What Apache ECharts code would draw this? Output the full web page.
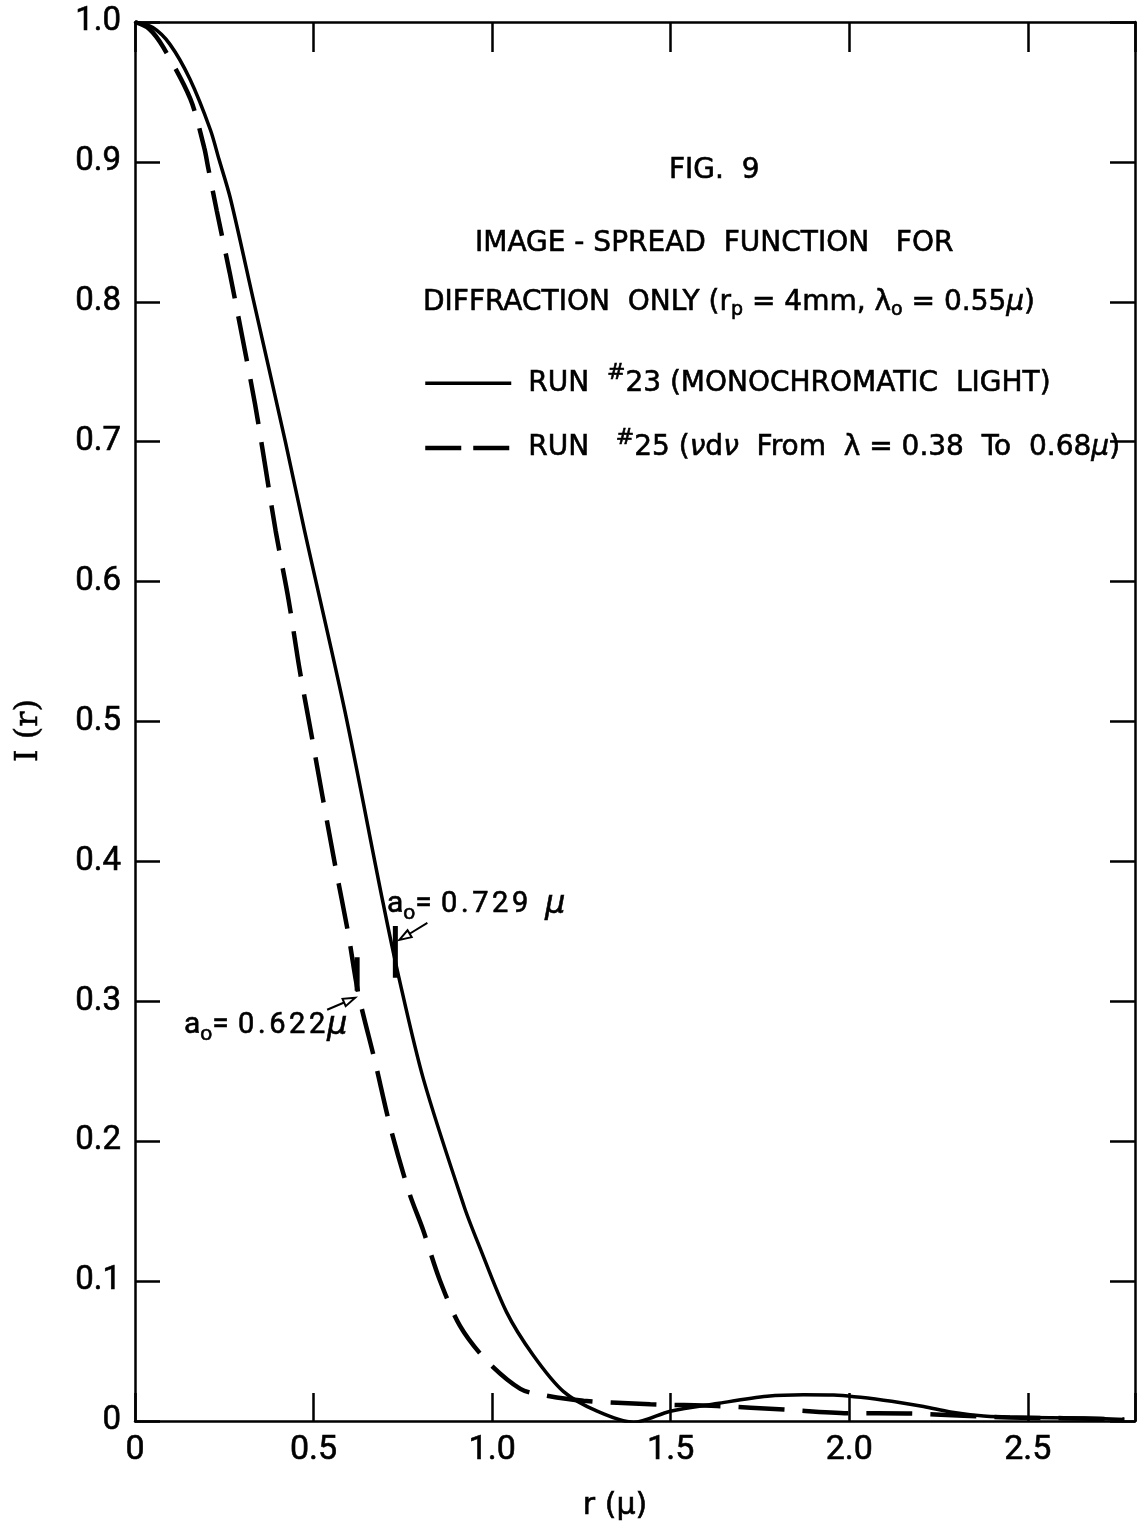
<!DOCTYPE html>
<html>
<head>
<meta charset="utf-8">
<script src="https://cdn.jsdelivr.net/npm/echarts@6/dist/echarts.min.js"></script>
<style>
  html, body { margin: 0; padding: 0; background: #fff; }
  #chart { width: 1142px; height: 1530px; }
</style>
</head>
<body>
<div id="chart"></div>
<script>
// Image-spread function for diffraction only.
// Run #23: monochromatic light — radius r (μ) and normalised intensity I(r)
const rRun23 = [0, 0.05, 0.098, 0.154, 0.211, 0.235, 0.267, 0.330, 0.421, 0.475, 0.588, 0.694, 0.738,
  0.808, 0.922, 0.964, 1.040, 1.115, 1.200, 1.294, 1.396, 1.499, 1.630, 1.770, 1.872, 1.956, 2.096,
  2.208, 2.283, 2.376, 2.469, 2.657, 2.77];
const iRun23 = [1.0, 0.996, 0.984, 0.959, 0.923, 0.902, 0.874, 0.803, 0.700, 0.636, 0.507, 0.371, 0.318,
  0.244, 0.153, 0.125, 0.078, 0.047, 0.021, 0.007, -0.001, 0.007, 0.0125, 0.0177, 0.0188, 0.0185, 0.0149,
  0.0104, 0.0065, 0.0036, 0.0026, 0.0022, 0.001];

// Run #25: νdν weighting from λ = 0.38 to 0.68 μ
const rRun25 = [0, 0.04, 0.079, 0.155, 0.194, 0.204, 0.229, 0.265, 0.301, 0.336, 0.365, 0.394, 0.430,
  0.461, 0.493, 0.526, 0.562, 0.596, 0.625, 0.672, 0.715, 0.768, 0.806, 0.853, 0.910, 0.985, 1.079,
  1.144, 1.256, 1.443, 1.630, 1.817, 1.996, 2.161, 2.32, 2.45, 2.6, 2.77];
const iRun25 = [1.0, 0.995, 0.982, 0.945, 0.910, 0.897, 0.865, 0.821, 0.774, 0.727, 0.682, 0.636, 0.587,
  0.537, 0.492, 0.445, 0.395, 0.350, 0.306, 0.257, 0.210, 0.163, 0.137, 0.101, 0.068, 0.043, 0.023,
  0.0185, 0.0145, 0.012, 0.0107, 0.0082, 0.0056, 0.0054, 0.0038, 0.0025, 0.002, 0.001];

// Radii a0 marked on each curve
const a0Run23 = 0.729;
const a0Run25 = 0.622;

const seriesNames = ['RUN #23', 'RUN #25'];

const FONT = '"DejaVu Sans", "Liberation Sans", sans-serif';
const NUMFONT = 'Roboto, "DejaVu Sans", sans-serif';

function zip(xs, ys) { return xs.map((x, k) => [x, ys[k]]); }
function interp(xs, ys, x) {
  for (let k = 1; k < xs.length; k++) {
    if (x <= xs[k]) {
      const t = (x - xs[k - 1]) / (xs[k] - xs[k - 1]);
      return ys[k - 1] + t * (ys[k] - ys[k - 1]);
    }
  }
  return ys[ys.length - 1];
}

const i23AtA0 = interp(rRun23, iRun23, a0Run23);
const i25AtA0 = interp(rRun25, iRun25, a0Run25);

// a0 label text, each digit as its own token so it can be spaced out
function a0Label(value, gapBeforeMu) {
  const digits = value.toFixed(3).split('').map(c => '{d|' + c + '}').join('');
  return '{a|a}{s|o}{a|= }' + digits + (gapBeforeMu ? '{a|  }' : '') + '{m|μ}';
}

const chart = echarts.init(document.getElementById('chart'), null, { renderer: 'canvas' });

const axisLineStyle = { color: '#000', width: 2.5 };
const tickStyle = { color: '#000', width: 2.5 };

// lettering style: slightly heavy strokes
const ink = { color: '#000', textBorderColor: '#000', textBorderWidth: 0.6 };
const letter = Object.assign({ fontFamily: FONT, fontSize: 28, fontWeight: 'normal' }, ink);
const subStyle = Object.assign({ fontFamily: FONT, fontSize: 19, padding: [16, 0, 0, 0] }, ink);
const supStyle = Object.assign({ fontFamily: FONT, fontSize: 22, padding: [0, 0, 20, 0] }, ink);
const itStyle = Object.assign({ fontFamily: FONT, fontSize: 28, fontStyle: 'italic' }, ink);

const annoStyle = Object.assign({}, ink, {
  fontFamily: NUMFONT, fontSize: 30, fontWeight: 'normal',
  rich: {
    a: Object.assign({ fontFamily: NUMFONT, fontSize: 30 }, ink),
    d: Object.assign({ fontFamily: NUMFONT, fontSize: 29, padding: [0, 1.8, 0, 1.8] }, ink),
    s: Object.assign({ fontFamily: NUMFONT, fontSize: 21, padding: [18, 0, 0, 0] }, ink),
    m: Object.assign({ fontFamily: FONT, fontSize: 32, fontStyle: 'italic' }, ink)
  }
});

const option = {
  backgroundColor: '#fff',
  animation: false,
  textStyle: { fontFamily: FONT, color: '#000' },
  grid: { left: 135, right: 7, top: 22, bottom: 109, containLabel: false },
  title: [
    { text: 'FIG.  9', left: 664, top: 152, textStyle: letter },
    { text: 'IMAGE - SPREAD  FUNCTION   FOR', left: 470, top: 225, textStyle: letter },
    { text: 'DIFFRACTION  ONLY (r{sub|p} = 4mm, λ{sub|o} = 0.55{it|μ})', left: 418, top: 280,
      textStyle: Object.assign({}, letter, { rich: { sub: subStyle, it: itStyle } }) },
    { text: a0Label(a0Run23, true), left: 387, top: 885, padding: 0, textStyle: annoStyle },
    { text: a0Label(a0Run25, false), left: 184, top: 1006, padding: 0, textStyle: annoStyle }
  ],
  legend: {
    orient: 'vertical', left: 418, top: 357,
    itemWidth: 86, itemHeight: 32, itemGap: 29,
    selectedMode: false,
    itemStyle: { opacity: 0 },
    data: [
      { name: seriesNames[0], lineStyle: { color: '#000', width: 3.5, type: 'solid', opacity: 1 } },
      { name: seriesNames[1], lineStyle: { color: '#000', width: 4.5, type: [36, 12], opacity: 1 } }
    ],
    formatter: function (name) {
      if (name === seriesNames[0]) {
        return '{g|}RUN  {sup|#}23 (MONOCHROMATIC  LIGHT)';
      }
      return '{g|}RUN   {sup|#}25 ({it|ν}d{it|ν}  From  λ = 0.38  To  0.68{it|μ})';
    },
    textStyle: Object.assign({}, letter, {
      rich: { g: { width: 12 }, sup: supStyle, it: itStyle }
    })
  },
  xAxis: [
    {
      type: 'value', position: 'bottom', min: 0, max: 2.8, interval: 0.5,
      axisLine: { show: true, onZero: false, lineStyle: axisLineStyle },
      axisTick: { show: true, inside: true, length: 28, lineStyle: tickStyle },
      splitLine: { show: false },
      axisLabel: {
        fontFamily: NUMFONT, fontSize: 34, color: '#000', margin: 12,
        textBorderColor: '#000', textBorderWidth: 0.6,
        formatter: v => (v > 2.75 ? '' : (v === 0 ? '0' : v.toFixed(1)))
      },
      name: 'r (μ)', nameLocation: 'middle', nameGap: 70,
      nameTextStyle: { fontFamily: FONT, fontSize: 30, color: '#000', padding: [0, 40, 0, 0],
        textBorderColor: '#000', textBorderWidth: 0.6 }
    },
    {
      type: 'value', position: 'top', min: 0, max: 2.8, interval: 0.5,
      axisLine: { show: true, onZero: false, lineStyle: axisLineStyle },
      axisTick: { show: true, inside: true, length: 30, lineStyle: tickStyle },
      splitLine: { show: false },
      axisLabel: { show: false }
    }
  ],
  yAxis: [
    {
      type: 'value', position: 'left', min: 0, max: 1, interval: 0.1,
      axisLine: { show: true, onZero: false, lineStyle: axisLineStyle },
      axisTick: { show: true, inside: true, length: 25, lineStyle: tickStyle },
      splitLine: { show: false },
      axisLabel: {
        fontFamily: NUMFONT, fontSize: 33, color: '#000', margin: 14,
        textBorderColor: '#000', textBorderWidth: 0.6,
        formatter: v => (v === 0 ? '0' : v.toFixed(1))
      },
      name: 'I (r)', nameLocation: 'middle', nameGap: 90, nameRotate: 90,
      nameTextStyle: { fontFamily: '"DejaVu Serif", serif', fontSize: 32, color: '#000',
        padding: [0, 18, 0, 0], textBorderColor: '#000', textBorderWidth: 0.5 }
    },
    {
      type: 'value', position: 'right', min: 0, max: 1, interval: 0.1,
      axisLine: { show: true, onZero: false, lineStyle: axisLineStyle },
      axisTick: { show: true, inside: true, length: 25, lineStyle: tickStyle },
      splitLine: { show: false },
      axisLabel: { show: false }
    }
  ],
  series: [
    {
      name: seriesNames[0], type: 'line', xAxisIndex: 0, yAxisIndex: 0,
      data: zip(rRun23, iRun23),
      symbol: 'none', smooth: 0.3,
      lineStyle: { color: '#000', width: 3.5 }, itemStyle: { color: '#000' }
    },
    {
      name: seriesNames[1], type: 'line', xAxisIndex: 0, yAxisIndex: 0,
      data: zip(rRun25, iRun25),
      symbol: 'none', smooth: 0.3,
      lineStyle: { color: '#000', width: 4.5, type: [46, 18] }, itemStyle: { color: '#000' }
    },
    {
      name: 'a0 run 23', type: 'line', xAxisIndex: 0, yAxisIndex: 0,
      data: [[a0Run23, i23AtA0 - 0.012], [a0Run23, i23AtA0 + 0.025]],
      symbol: 'none', lineStyle: { color: '#000', width: 5 }, silent: true
    },
    {
      name: 'a0 run 25', type: 'line', xAxisIndex: 0, yAxisIndex: 0,
      data: [[a0Run25, i25AtA0 - 0.003], [a0Run25, i25AtA0 + 0.021]],
      symbol: 'none', lineStyle: { color: '#000', width: 5 }, silent: true
    }
  ]
};

chart.setOption(option);

// Hollow arrows from the a0 labels to the marks on the curves
function arrow(tail, tip) {
  const dx = tip[0] - tail[0], dy = tip[1] - tail[1];
  const len = Math.hypot(dx, dy);
  const ux = dx / len, uy = dy / len;
  const nx = -uy, ny = ux;
  const hl = 12, hw = 4;
  const base = [tip[0] - ux * hl, tip[1] - uy * hl];
  return [
    { type: 'line', shape: { x1: tail[0], y1: tail[1], x2: base[0], y2: base[1] },
      style: { stroke: '#000', lineWidth: 2 } },
    { type: 'polygon',
      shape: { points: [tip, [base[0] + nx * hw, base[1] + ny * hw], [base[0] - nx * hw, base[1] - ny * hw]] },
      style: { stroke: '#000', fill: '#fff', lineWidth: 2 } }
  ];
}

const tip23 = chart.convertToPixel({ xAxisIndex: 0, yAxisIndex: 0 }, [a0Run23, i23AtA0 + 0.015]);
const tip25 = chart.convertToPixel({ xAxisIndex: 0, yAxisIndex: 0 }, [a0Run25, i25AtA0 - 0.008]);

chart.setOption({
  graphic: [
    ...arrow([tip23[0] + 32, tip23[1] - 17], [tip23[0] + 4, tip23[1]]),
    ...arrow([tip25[0] - 30, tip25[1] + 12], [tip25[0] - 2, tip25[1]])
  ]
});
</script>
</body>
</html>
